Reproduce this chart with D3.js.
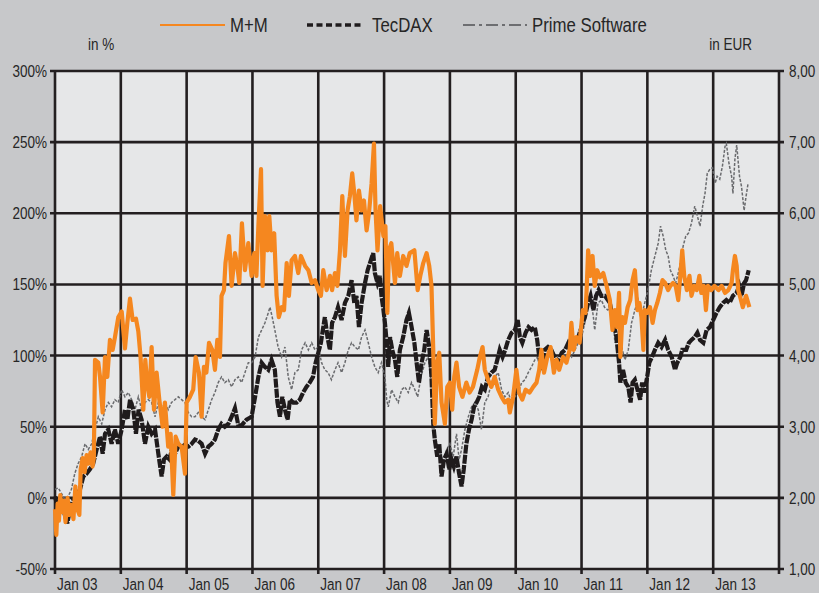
<!DOCTYPE html>
<html><head><meta charset="utf-8">
<script src="https://cdn.jsdelivr.net/npm/d3@7"></script>
<style>
html,body{margin:0;padding:0;background:#c7c8ca;}
svg{display:block;}
text{font-family:"Liberation Sans",Arial,sans-serif;fill:#262626;}
</style></head>
<body>
<svg id="chart" width="819" height="593"></svg>
<script>
// ---------- data (t = decimal year, v = performance in %) ----------
const yearTicks = [2003,2004,2005,2006,2007,2008,2009,2010,2011,2012,2013,2014];
const xTickLabels = ["Jan 03","Jan 04","Jan 05","Jan 06","Jan 07","Jan 08","Jan 09","Jan 10","Jan 11","Jan 12","Jan 13"];
const leftTicks = [-50,0,50,100,150,200,250,300];
const leftTickLabels = ["-50%","0%","50%","100%","150%","200%","250%","300%"];
const rightTicks = [1,2,3,4,5,6,7,8];
const rightTickLabels = ["1,00","2,00","3,00","4,00","5,00","6,00","7,00","8,00"];
const seriesNames = ["M+M","TecDAX","Prime Software"];

const mmData = [
[2003.00,-8],[2003.02,-26],[2003.04,-4],[2003.06,-16],[2003.08,2],[2003.10,-10],[2003.13,-2],[2003.16,-17],[2003.19,0],[2003.22,-12],[2003.25,-5],[2003.28,-15],[2003.31,8],[2003.34,-8],[2003.37,-12],[2003.39,20],[2003.42,28],[2003.45,18],[2003.48,30],[2003.51,24],[2003.54,32],[2003.57,22],[2003.59,28],
[2003.608,97],[2003.658,95],[2003.684,85],[2003.724,60],[2003.76,99],[2003.795,85],[2003.835,111],[2003.876,104],[2003.911,113],[2003.962,127],[2004.013,131],[2004.063,105],[2004.099,123],[2004.139,140],[2004.18,125],[2004.23,126],[2004.266,117],[2004.30,99],[2004.342,62],[2004.372,97],[2004.40,81],[2004.433,71],[2004.468,106],[2004.504,62],[2004.544,88],[2004.585,69],[2004.635,50],[2004.67,67],[2004.72,36],[2004.757,45],[2004.797,2],[2004.833,43],[2004.873,38],[2004.924,36],[2004.975,17],
[2005.00,67],[2005.05,71],[2005.10,76],[2005.137,99],[2005.187,88],[2005.228,57],[2005.263,92],[2005.30,88],[2005.34,109],[2005.39,104],[2005.43,90],[2005.466,111],[2005.506,99],[2005.53,142],[2005.567,146],[2005.59,165],[2005.643,184],[2005.684,149],[2005.734,172],[2005.77,163],[2005.80,151],[2005.84,193],[2005.886,160],[2005.937,179],[2005.987,156],
[2006.028,172],[2006.06,156],[2006.09,191],[2006.13,231],[2006.154,149],[2006.19,198],[2006.23,174],[2006.256,198],[2006.29,174],[2006.33,186],[2006.367,142],[2006.40,127],[2006.443,134],[2006.48,132],[2006.52,165],[2006.554,142],[2006.595,167],[2006.645,170],[2006.696,158],[2006.737,170],[2006.80,163],[2006.85,160],[2006.90,151],[2006.95,153],
[2007.00,146],[2007.04,142],[2007.076,160],[2007.127,146],[2007.177,156],[2007.21,146],[2007.253,158],[2007.29,149],[2007.33,174],[2007.365,212],[2007.405,170],[2007.445,202],[2007.48,212],[2007.516,228],[2007.547,214],[2007.58,195],[2007.618,216],[2007.658,202],[2007.694,209],[2007.734,188],[2007.77,200],[2007.81,221],[2007.846,249],[2007.87,202],[2007.90,174],[2007.94,205],[2007.99,184],
[2008.02,191],[2008.05,130],[2008.073,174],[2008.11,179],[2008.165,151],[2008.20,172],[2008.24,156],[2008.29,170],[2008.34,163],[2008.39,172],[2008.46,174],[2008.51,146],[2008.55,156],[2008.595,165],[2008.646,172],[2008.686,163],[2008.72,149],[2008.747,104],[2008.77,52],[2008.808,95],[2008.838,102],[2008.873,67],[2008.924,52],[2008.96,78],
[2009.00,81],[2009.035,62],[2009.066,85],[2009.10,95],[2009.14,78],[2009.19,71],[2009.25,81],[2009.30,74],[2009.35,78],[2009.415,90],[2009.455,99],[2009.496,106],[2009.53,90],[2009.58,83],[2009.63,78],[2009.68,85],[2009.734,76],[2009.785,71],[2009.835,67],[2009.886,69],[2009.91,60],[2009.96,71],
[2010.01,90],[2010.05,74],[2010.10,69],[2010.15,76],[2010.21,74],[2010.266,78],[2010.316,81],[2010.357,90],[2010.39,104],[2010.43,88],[2010.48,99],[2010.53,106],[2010.58,88],[2010.62,97],[2010.66,90],[2010.72,99],[2010.77,95],[2010.82,104],[2010.846,123],[2010.88,104],[2010.92,113],[2010.97,109],
[2011.02,132],[2011.06,130],[2011.08,149],[2011.10,174],[2011.137,156],[2011.167,170],[2011.20,149],[2011.238,160],[2011.278,155],[2011.33,158],[2011.38,149],[2011.43,139],[2011.47,118],[2011.506,132],[2011.54,120],[2011.57,144],[2011.59,99],[2011.62,127],[2011.66,123],[2011.70,134],[2011.74,139],[2011.775,153],[2011.81,160],[2011.85,132],[2011.88,137],[2011.91,127],[2011.94,104],[2011.96,132],
[2012.00,130],[2012.04,134],[2012.08,123],[2012.115,132],[2012.15,137],[2012.19,144],[2012.23,153],[2012.27,151],[2012.316,146],[2012.35,149],[2012.39,151],[2012.43,149],[2012.47,139],[2012.50,156],[2012.53,174],[2012.56,156],[2012.60,146],[2012.64,156],[2012.67,142],[2012.71,149],[2012.75,146],[2012.79,156],[2012.82,144],[2012.86,149],[2012.89,132],[2012.92,149],[2012.97,146],
[2013.02,149],[2013.08,146],[2013.13,149],[2013.18,144],[2013.23,146],[2013.28,151],[2013.30,160],[2013.33,170],[2013.357,163],[2013.38,146],[2013.405,142],[2013.45,134],[2013.48,139],[2013.50,142],[2013.55,134]
];

const tecdaxData = [
[2003.00,1],[2003.05,-8],[2003.10,-5],[2003.15,-12],[2003.187,-18],[2003.228,-8],[2003.28,-1],[2003.33,1],[2003.38,6],[2003.43,15],[2003.48,17],[2003.53,20],[2003.58,24],[2003.633,34],[2003.684,43],[2003.724,31],[2003.76,45],[2003.81,48],[2003.86,38],[2003.91,48],[2003.96,38],
[2004.013,48],[2004.063,62],[2004.10,55],[2004.14,69],[2004.19,62],[2004.23,45],[2004.27,62],[2004.316,55],[2004.367,38],[2004.418,50],[2004.468,45],[2004.52,48],[2004.57,31],[2004.62,15],[2004.656,27],[2004.696,29],[2004.737,27],[2004.777,34],[2004.823,31],[2004.873,36],[2004.924,38],[2004.975,36],
[2005.025,36],[2005.076,38],[2005.127,41],[2005.177,40],[2005.228,38],[2005.28,31],[2005.33,36],[2005.38,38],[2005.43,41],[2005.48,48],[2005.53,52],[2005.58,50],[2005.633,52],[2005.684,57],[2005.734,63],[2005.785,51],[2005.835,51],[2005.91,55],[2005.987,57],
[2006.04,71],[2006.09,85],[2006.14,95],[2006.19,92],[2006.24,90],[2006.29,97],[2006.34,90],[2006.38,67],[2006.418,57],[2006.453,71],[2006.494,62],[2006.534,55],[2006.57,69],[2006.62,67],[2006.67,67],[2006.72,69],[2006.77,74],[2006.82,78],[2006.87,81],[2006.92,85],[2006.96,95],
[2007.00,102],[2007.04,109],[2007.076,120],[2007.10,127],[2007.14,113],[2007.177,104],[2007.21,123],[2007.253,127],[2007.30,134],[2007.354,125],[2007.405,137],[2007.456,142],[2007.506,153],[2007.547,137],[2007.58,142],[2007.618,120],[2007.658,137],[2007.71,151],[2007.75,160],[2007.785,165],[2007.835,172],[2007.86,158],[2007.90,151],[2007.937,156],[2007.96,142],[2007.99,132],
[2008.013,123],[2008.04,109],[2008.063,92],[2008.09,113],[2008.124,104],[2008.165,97],[2008.20,85],[2008.24,104],[2008.29,113],[2008.34,125],[2008.377,130],[2008.418,120],[2008.46,109],[2008.494,95],[2008.53,81],[2008.57,95],[2008.61,104],[2008.646,118],[2008.686,106],[2008.72,85],[2008.747,52],[2008.77,41],[2008.808,29],[2008.838,38],[2008.873,15],[2008.91,27],[2008.95,31],[2008.99,20],
[2009.025,27],[2009.06,22],[2009.10,29],[2009.14,17],[2009.177,8],[2009.21,20],[2009.25,38],[2009.29,48],[2009.33,55],[2009.367,64],[2009.405,67],[2009.445,71],[2009.486,78],[2009.53,76],[2009.58,85],[2009.63,88],[2009.68,90],[2009.72,97],[2009.757,104],[2009.80,99],[2009.84,104],[2009.886,111],[2009.937,116],[2009.987,118],
[2010.03,125],[2010.063,113],[2010.10,109],[2010.15,116],[2010.195,120],[2010.24,118],[2010.29,120],[2010.326,111],[2010.357,99],[2010.39,90],[2010.44,104],[2010.49,106],[2010.54,104],[2010.59,99],[2010.64,95],[2010.70,102],[2010.75,104],[2010.80,109],[2010.846,106],[2010.90,109],[2010.95,113],
[2011.00,120],[2011.05,127],[2011.10,137],[2011.137,142],[2011.18,132],[2011.22,142],[2011.26,146],[2011.30,142],[2011.355,142],[2011.43,137],[2011.48,125],[2011.53,113],[2011.57,95],[2011.59,81],[2011.63,90],[2011.67,81],[2011.71,78],[2011.745,67],[2011.775,81],[2011.81,83],[2011.85,76],[2011.89,69],[2011.92,81],[2011.95,74],[2011.99,83],
[2012.03,95],[2012.07,99],[2012.115,104],[2012.165,109],[2012.215,106],[2012.27,111],[2012.316,104],[2012.37,99],[2012.42,90],[2012.455,95],[2012.50,99],[2012.53,104],[2012.59,104],[2012.63,109],[2012.67,111],[2012.72,113],[2012.76,116],[2012.80,111],[2012.85,109],[2012.90,118],[2012.95,120],
[2013.00,125],[2013.05,130],[2013.10,134],[2013.15,137],[2013.20,139],[2013.25,137],[2013.30,142],[2013.355,144],[2013.395,149],[2013.43,142],[2013.47,151],[2013.50,153],[2013.54,160]
];

const primeData = [
[2003.00,6],[2003.05,7],[2003.10,3],[2003.15,-1],[2003.20,1],[2003.25,6],[2003.30,17],[2003.35,24],[2003.405,29],[2003.456,38],[2003.506,34],[2003.557,38],[2003.608,48],[2003.658,57],[2003.71,52],[2003.76,62],[2003.81,67],[2003.86,64],[2003.91,69],[2003.96,67],
[2004.013,76],[2004.063,71],[2004.114,74],[2004.165,69],[2004.215,62],[2004.266,71],[2004.316,62],[2004.367,67],[2004.418,69],[2004.468,67],[2004.52,57],[2004.57,67],[2004.62,62],[2004.67,67],[2004.72,62],[2004.77,67],[2004.823,69],[2004.873,71],[2004.924,69],[2004.975,67],
[2005.025,60],[2005.076,57],[2005.127,57],[2005.177,60],[2005.228,57],[2005.28,55],[2005.33,62],[2005.38,69],[2005.43,74],[2005.48,81],[2005.53,85],[2005.58,81],[2005.633,83],[2005.684,78],[2005.734,83],[2005.785,85],[2005.835,81],[2005.886,88],[2005.937,95],[2005.987,95],
[2006.04,99],[2006.09,113],[2006.14,118],[2006.19,123],[2006.24,130],[2006.266,134],[2006.30,127],[2006.34,118],[2006.39,106],[2006.443,99],[2006.494,106],[2006.544,85],[2006.595,76],[2006.645,88],[2006.696,90],[2006.747,104],[2006.80,109],[2006.85,104],[2006.90,109],[2006.95,104],
[2007.00,106],[2007.05,95],[2007.10,90],[2007.15,88],[2007.20,83],[2007.253,90],[2007.30,95],[2007.354,88],[2007.405,95],[2007.456,104],[2007.506,109],[2007.557,106],[2007.61,104],[2007.658,113],[2007.71,118],[2007.76,109],[2007.81,99],[2007.86,92],[2007.91,88],[2007.96,95],
[2008.013,85],[2008.04,69],[2008.063,64],[2008.114,76],[2008.165,71],[2008.215,67],[2008.266,76],[2008.316,78],[2008.367,74],[2008.418,81],[2008.468,76],[2008.51,71],[2008.56,85],[2008.62,95],[2008.67,99],[2008.696,90],[2008.737,69],[2008.757,50],[2008.80,38],[2008.85,34],[2008.90,24],[2008.95,34],
[2009.00,38],[2009.05,29],[2009.10,45],[2009.14,27],[2009.177,34],[2009.228,48],[2009.28,57],[2009.33,64],[2009.38,67],[2009.43,62],[2009.48,48],[2009.53,67],[2009.58,71],[2009.63,81],[2009.68,85],[2009.734,88],[2009.785,76],[2009.835,71],[2009.886,74],[2009.937,67],[2009.987,71],
[2010.04,74],[2010.09,81],[2010.14,83],[2010.19,88],[2010.24,92],[2010.29,97],[2010.34,99],[2010.39,95],[2010.44,99],[2010.49,102],[2010.54,97],[2010.59,95],[2010.64,99],[2010.70,102],[2010.75,99],[2010.80,102],[2010.85,99],[2010.90,104],[2010.95,109],
[2011.00,113],[2011.05,123],[2011.10,137],[2011.137,142],[2011.18,127],[2011.20,118],[2011.25,137],[2011.30,139],[2011.35,134],[2011.40,132],[2011.45,134],[2011.48,130],[2011.506,109],[2011.54,113],[2011.58,120],[2011.62,104],[2011.66,97],[2011.71,104],[2011.76,123],[2011.81,132],[2011.86,139],[2011.91,127],[2011.96,137],
[2012.01,146],[2012.06,160],[2012.115,170],[2012.165,179],[2012.20,191],[2012.24,184],[2012.28,174],[2012.316,170],[2012.35,160],[2012.39,156],[2012.43,151],[2012.47,158],[2012.50,165],[2012.544,177],[2012.584,184],[2012.625,186],[2012.67,193],[2012.72,205],[2012.76,198],[2012.80,191],[2012.84,205],[2012.876,214],[2012.91,228],[2012.95,231],[2012.99,232],
[2013.03,221],[2013.06,226],[2013.10,224],[2013.14,233],[2013.18,247],[2013.20,249],[2013.24,235],[2013.28,226],[2013.30,214],[2013.33,238],[2013.357,248],[2013.40,226],[2013.43,219],[2013.47,202],[2013.50,212],[2013.53,221]
];

// ---------- layout ----------
const W = 819, H = 593;
const m = {left:55, right:40, top:71, bottom:24};
const svg = d3.select("#chart");
const x = d3.scaleLinear().domain([2003,2014]).range([m.left, W - m.right]);
const y = d3.scaleLinear().domain([-50,300]).range([H - m.bottom, m.top]);
const yR = d3.scaleLinear().domain([1,8]).range([H - m.bottom, m.top]);
const gridColor = "#231f20";
const NARROW = 0.82; // condensed look

function ctext(g, tx, ty, str, size, anchor, dy){
  return g.append("text")
    .attr("transform",`translate(${tx},${ty}) scale(${NARROW},1)`)
    .attr("text-anchor",anchor||"start").attr("dy",dy||null)
    .attr("font-size",size).text(str);
}

svg.append("rect").attr("width",W).attr("height",H).attr("fill","#c7c8ca");
svg.append("rect").attr("x",x(2003)).attr("y",y(300)).attr("width",x(2014)-x(2003)).attr("height",y(-50)-y(300)).attr("fill","#e6e7e8");

// grid
const grid = svg.append("g");
grid.selectAll("line.h").data(leftTicks).join("line")
  .attr("x1",x(2003)-5).attr("x2",x(2014)+5).attr("y1",d=>y(d)).attr("y2",d=>y(d))
  .attr("stroke",gridColor).attr("stroke-width",2.6);
grid.selectAll("line.v").data(yearTicks).join("line")
  .attr("x1",d=>x(d)).attr("x2",d=>x(d)).attr("y1",y(300)).attr("y2",y(-50)+5)
  .attr("stroke",gridColor).attr("stroke-width",2.6);

// axis labels
const lab = svg.append("g");
leftTicks.forEach((d,i)=>ctext(lab, x(2003)-8, y(d), leftTickLabels[i], 16.5, "end", "0.36em"));
rightTicks.forEach((d,i)=>ctext(lab, x(2014)+10, yR(d), rightTickLabels[i], 16.5, "start", "0.36em"));
xTickLabels.forEach((d,i)=>ctext(lab, x(yearTicks[i])+2, H-3, d, 16.5, "start"));
ctext(lab, 88, 50, "in %", 16.5, "start");
ctext(lab, 752, 50, "in EUR", 16.5, "end");

// lines
const line = d3.line().x(d=>x(d[0])).y(d=>y(d[1]));
const plot = svg.append("g");
plot.append("path").datum(primeData).attr("d",line).attr("fill","none")
  .attr("stroke","#6a6b6e").attr("stroke-width",1.5).attr("stroke-dasharray","3,1.6");
plot.append("path").datum(tecdaxData).attr("d",line).attr("fill","none")
  .attr("stroke","#1f1b1c").attr("stroke-width",4.2).attr("stroke-dasharray","9,1.2");
plot.append("path").datum(mmData).attr("d",line).attr("fill","none")
  .attr("stroke","#f5871f").attr("stroke-width",4.2).attr("stroke-linejoin","round");

// legend
const lg = svg.append("g");
const legendItems = [
  {x1:160,x2:225,tx:230,color:"#f5871f",w:2,dash:null},
  {x1:307,x2:363,tx:372,color:"#1f1b1c",w:3.5,dash:"6,3.5"},
  {x1:463,x2:527,tx:532,color:"#6d6e71",w:2,dash:"12,4,3,4"}
];
legendItems.forEach((it,i)=>{
  lg.append("line").attr("x1",it.x1).attr("x2",it.x2).attr("y1",25).attr("y2",25)
    .attr("stroke",it.color).attr("stroke-width",it.w).attr("stroke-dasharray",it.dash);
  ctext(lg, it.tx, 32, seriesNames[i], 20.5, "start");
});
</script>
</body></html>
